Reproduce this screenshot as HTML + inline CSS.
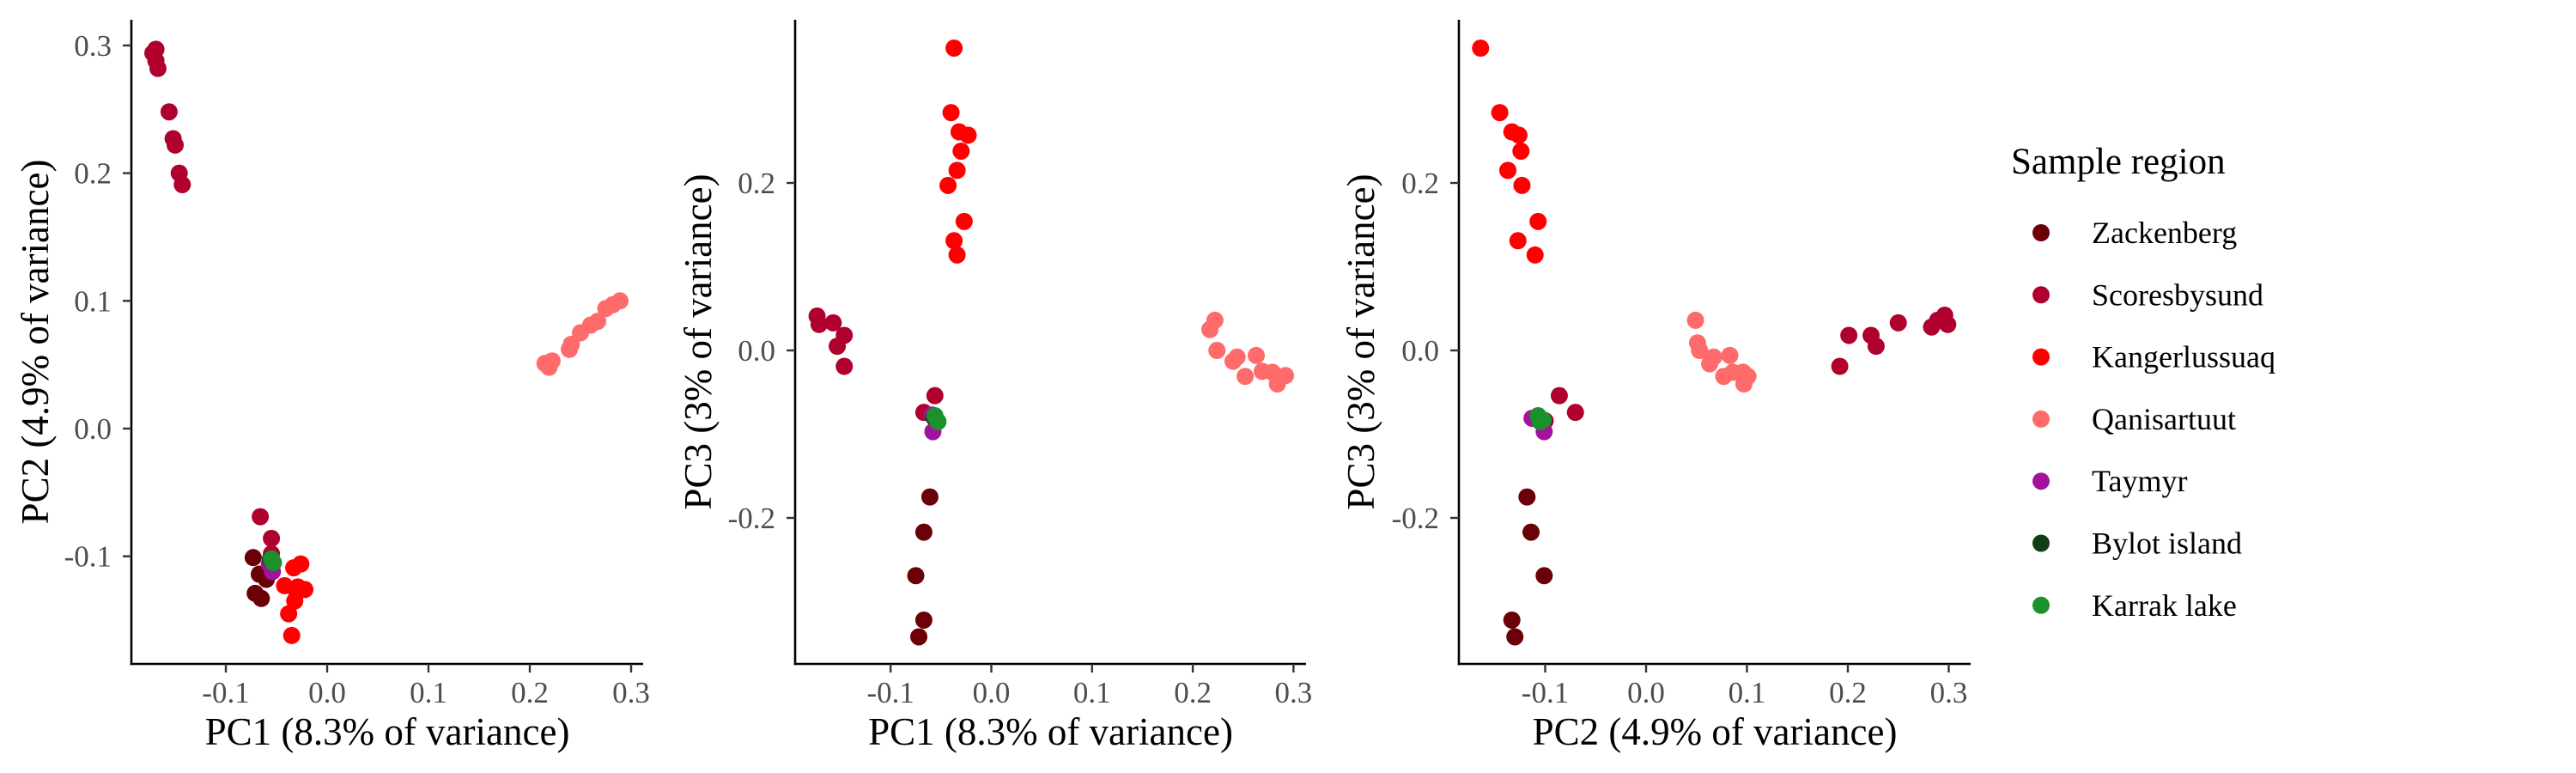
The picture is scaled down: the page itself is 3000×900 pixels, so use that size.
<!DOCTYPE html>
<html><head><meta charset="utf-8"><style>
html,body{margin:0;padding:0;background:#fff}
svg{display:block}
text{font-family:"Liberation Serif",serif}
</style></head><body>
<svg id="chart" width="3000" height="900" viewBox="0 0 3000 900" xmlns="http://www.w3.org/2000/svg"></svg>
<script>
const groups=["Zackenberg","Scoresbysund","Kangerlussuaq","Qanisartuut","Taymyr","Bylot island","Karrak lake"];
const colors=["#6B0008","#B0002E","#FF0000","#FF6A6A","#A3129C","#113F14","#1B912B"];
const xTicks=[-0.1,0.0,0.1,0.2,0.3];
const xTickLabels=["-0.1","0.0","0.1","0.2","0.3"];
const y1Ticks=[-0.1,0.0,0.1,0.2,0.3];
const y1TickLabels=["-0.1","0.0","0.1","0.2","0.3"];
const y23Ticks=[-0.2,0.0,0.2];
const y23TickLabels=["-0.2","0.0","0.2"];
// Panel 1: PC1 vs PC2
const p1x={
"Zackenberg":[-0.073,-0.067,-0.060,-0.071,-0.065],
"Scoresbysund":[-0.169,-0.172,-0.169,-0.167,-0.156,-0.152,-0.150,-0.146,-0.143,-0.066,-0.055,-0.055],
"Kangerlussuaq":[-0.033,-0.026,-0.042,-0.029,-0.022,-0.032,-0.030,-0.038,-0.035],
"Qanisartuut":[0.215,0.222,0.219,0.239,0.241,0.250,0.260,0.267,0.275,0.282,0.289],
"Taymyr":[-0.057,-0.054],
"Bylot island":[-0.056],
"Karrak lake":[-0.055,-0.053]};
const p1y={
"Zackenberg":[-0.101,-0.114,-0.118,-0.129,-0.133],
"Scoresbysund":[0.297,0.294,0.288,0.282,0.248,0.227,0.222,0.200,0.191,-0.069,-0.086,-0.098],
"Kangerlussuaq":[-0.109,-0.106,-0.123,-0.124,-0.126,-0.135,-0.128,-0.145,-0.162],
"Qanisartuut":[0.051,0.053,0.048,0.062,0.066,0.075,0.081,0.084,0.094,0.097,0.100],
"Taymyr":[-0.106,-0.112],
"Bylot island":[-0.102],
"Karrak lake":[-0.102,-0.105]};
// Panel 2: PC1 vs PC3
const p2x={
"Zackenberg":[-0.061,-0.067,-0.075,-0.067,-0.072],
"Scoresbysund":[-0.173,-0.171,-0.157,-0.146,-0.153,-0.146,-0.056,-0.067],
"Kangerlussuaq":[-0.037,-0.040,-0.032,-0.023,-0.030,-0.034,-0.043,-0.027,-0.037,-0.034],
"Qanisartuut":[0.222,0.217,0.224,0.240,0.244,0.252,0.263,0.269,0.279,0.284,0.292],
"Taymyr":[-0.059,-0.058],
"Bylot island":[-0.057],
"Karrak lake":[-0.056,-0.053]};
const p2y={
"Zackenberg":[-0.175,-0.217,-0.269,-0.322,-0.342],
"Scoresbysund":[0.041,0.031,0.033,0.018,0.005,-0.019,-0.054,-0.074],
"Kangerlussuaq":[0.361,0.284,0.261,0.257,0.238,0.215,0.197,0.154,0.131,0.114],
"Qanisartuut":[0.036,0.025,0.000,-0.013,-0.008,-0.031,-0.006,-0.025,-0.026,-0.040,-0.030],
"Taymyr":[-0.077,-0.097],
"Bylot island":[-0.080],
"Karrak lake":[-0.078,-0.085]};
// Panel 3: PC2 vs PC3
const p3x={
"Zackenberg":[-0.118,-0.114,-0.101,-0.133,-0.130],
"Scoresbysund":[0.192,0.201,0.223,0.228,0.250,0.283,0.289,0.296,0.299,-0.086,-0.070,-0.100],
"Kangerlussuaq":[-0.164,-0.145,-0.133,-0.126,-0.124,-0.137,-0.123,-0.107,-0.127,-0.110],
"Qanisartuut":[0.049,0.051,0.053,0.067,0.063,0.083,0.077,0.086,0.096,0.101,0.097],
"Taymyr":[-0.113,-0.101],
"Bylot island":[-0.106],
"Karrak lake":[-0.107,-0.102,-0.105]};
const p3y={
"Zackenberg":[-0.175,-0.217,-0.269,-0.322,-0.342],
"Scoresbysund":[-0.019,0.018,0.018,0.005,0.033,0.028,0.036,0.042,0.031,-0.054,-0.074,-0.084],
"Kangerlussuaq":[0.361,0.284,0.261,0.257,0.238,0.215,0.197,0.154,0.131,0.114],
"Qanisartuut":[0.036,0.009,0.000,-0.008,-0.016,-0.006,-0.031,-0.026,-0.026,-0.031,-0.040],
"Taymyr":[-0.081,-0.097],
"Bylot island":[-0.080],
"Karrak lake":[-0.078,-0.083,-0.085]};

const NS="http://www.w3.org/2000/svg";
const svg=document.getElementById('chart');
function mk(tag,attrs,parent){const e=document.createElementNS(NS,tag);for(const k in attrs)e.setAttribute(k,attrs[k]);(parent||svg).appendChild(e);return e;}

const panels=[
 {name:"pc1-pc2",left:153,right:749,x0:381,xs:1180,y0:499,ys:1487,xd:p1x,yd:p1y,yt:y1Ticks,ytl:y1TickLabels,xtitle:"PC1 (8.3% of variance)",ytitle:"PC2 (4.9% of variance)",ytx:41},
 {name:"pc1-pc3",left:926,right:1521,x0:1154.5,xs:1173,y0:408,ys:975,xd:p2x,yd:p2y,yt:y23Ticks,ytl:y23TickLabels,xtitle:"PC1 (8.3% of variance)",ytitle:"PC3 (3% of variance)",ytx:813},
 {name:"pc2-pc3",left:1699,right:2295,x0:1917,xs:1175,y0:408,ys:975,xd:p3x,yd:p3y,yt:y23Ticks,ytl:y23TickLabels,xtitle:"PC2 (4.9% of variance)",ytitle:"PC3 (3% of variance)",ytx:1585}
];
const TOP=23,BOT=773;
panels.forEach(p=>{
 const g=mk('g',{});
 
 
 const X=v=>p.x0+p.xs*v, Y=v=>p.y0-p.ys*v;
 const pts=mk('g',{},g);
 
 
 groups.forEach((gr,i)=>{
  const xs=p.xd[gr],ys=p.yd[gr];
  for(let j=0;j<xs.length;j++){
   const c=mk('circle',{cx:X(xs[j]),cy:Y(ys[j]),r:10,fill:colors[i]},pts);
   
   
  }
 });
 const ya=mk('line',{x1:p.left,y1:TOP,x2:p.left,y2:BOT+1.3,stroke:'#000','stroke-width':2.6},g);
 
 
 const xa=mk('line',{x1:p.left-1.3,y1:BOT,x2:p.right,y2:BOT,stroke:'#000','stroke-width':2.6},g);
 
 
 xTicks.forEach((t,i)=>{
  const x=X(t);
  const tk=mk('line',{x1:x,y1:BOT,x2:x,y2:BOT+10,stroke:'#333','stroke-width':2.4},g);
  
  
  const tl=mk('text',{x:x,y:818,'text-anchor':'middle','font-size':35,fill:'#4D4D4D'},g);
  tl.textContent=xTickLabels[i];
  
  
 });
 p.yt.forEach((t,i)=>{
  const y=Y(t);
  const tk=mk('line',{x1:p.left-10,y1:y,x2:p.left,y2:y,stroke:'#333','stroke-width':2.4},g);
  
  
  const tl=mk('text',{x:p.left-23,y:y+12,'text-anchor':'end','font-size':35,fill:'#4D4D4D'},g);
  tl.textContent=p.ytl[i];
  
  
 });
 const xt=mk('text',{x:(p.left+p.right)/2,y:867,'text-anchor':'middle','font-size':45,fill:'#000'},g);
 xt.textContent=p.xtitle;
 
 
 const yt=mk('text',{x:0,y:0,'text-anchor':'middle','font-size':45,fill:'#000',transform:`translate(${p.ytx+15},${(TOP+BOT)/2}) rotate(-90)`},g);
 yt.textContent=p.ytitle;
 
 
});
// legend
const lg=mk('g',{});


const lt=mk('text',{x:2342,y:202,'font-size':43,fill:'#000'},lg);
lt.textContent="Sample region";


groups.forEach((gr,i)=>{
 const cy=271+72.3*i;
 const c=mk('circle',{cx:2377,cy:cy,r:10,fill:colors[i]},lg);
 
 
 const t=mk('text',{x:2436,y:cy+12,'font-size':36,fill:'#000'},lg);
 t.textContent=gr;
 
 
});
</script>
</body></html>
